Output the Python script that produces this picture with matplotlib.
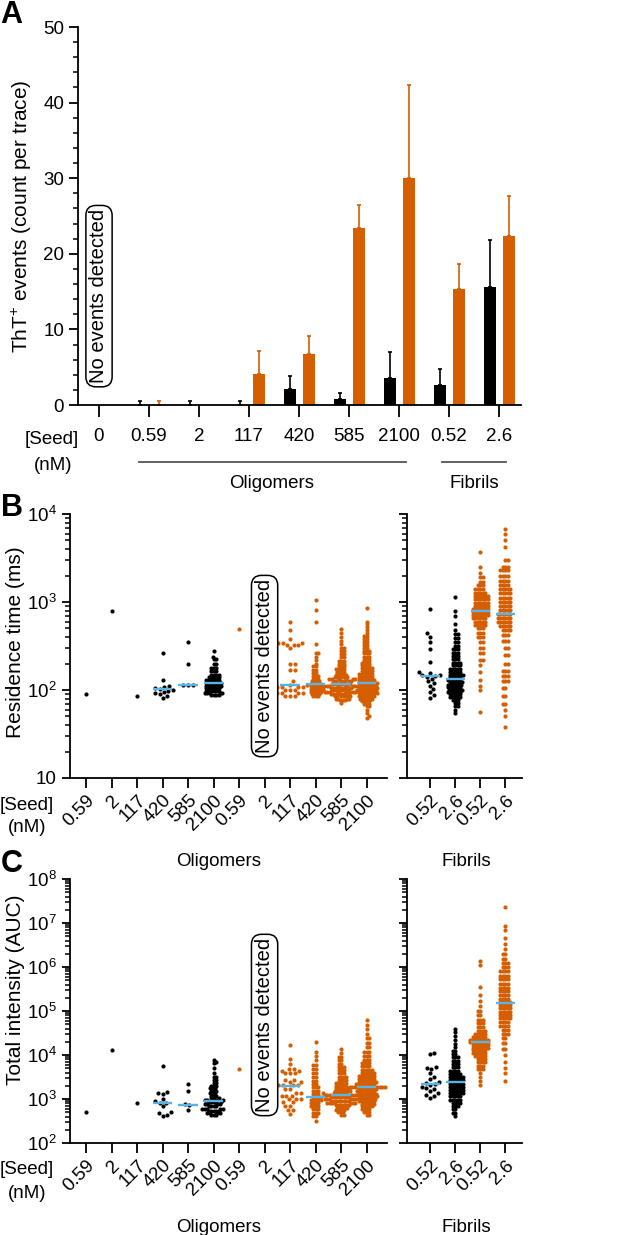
import numpy as np
import matplotlib
matplotlib.use('Agg')
import matplotlib.pyplot as plt
import matplotlib.transforms as mtransforms
from matplotlib.ticker import FixedLocator, MultipleLocator, LogLocator, NullFormatter, FuncFormatter

plt.rcParams['font.family'] = ['Liberation Sans', 'DejaVu Sans']
plt.rcParams['mathtext.fontset'] = 'custom'
plt.rcParams['mathtext.rm'] = 'Liberation Sans'
plt.rcParams['mathtext.it'] = 'Liberation Sans:italic'
plt.rcParams['mathtext.bf'] = 'Liberation Sans:bold'

ORANGE = '#D55E00'
BLUE = '#56B4E9'

# ---------------- Panel A data ----------------
seed_A = ['0', '0.59', '2', '117', '420', '585', '2100', '0.52', '2.6']
events_blk = [np.nan, 0, 0, 0, 2.1, 0.8, 3.6, 2.6, 15.6]
events_blk_err = [np.nan, 0.5, 0.5, 0.5, 1.8, 0.8, 3.4, 2.1, 6.2]
events_org = [np.nan, 0, np.nan, 4.1, 6.8, 23.4, 30.0, 15.4, 22.4]
events_org_err = [np.nan, 0.5, np.nan, 3.1, 2.3, 3.1, 12.3, 3.2, 5.2]

# ---------------- Panel B data: residence time (ms) ----------------
seed_olig = ['0.59', '2', '117', '420', '585', '2100']
seed_fib = ['0.52', '2.6']

rt_olig_blk_059 = [90]
rt_olig_blk_2 = [790]
rt_olig_blk_117 = [86]
rt_olig_blk_420 = [265, 130, 112, 108, 105, 103, 100, 98, 96, 92, 90, 86, 82]
rt_olig_blk_585 = [355, 197, 115, 115, 115]
rt_olig_blk_2100_lv = [275, 240, 225, 200, 180, 165, 150, 140, 130, 120, 112, 105, 98, 92, 87]
rt_olig_blk_2100_n = [1, 1, 2, 2, 3, 3, 4, 5, 6, 7, 7, 6, 6, 5, 4]

rt_olig_org_059 = [490]
rt_olig_org_2 = []
rt_olig_org_117_lv = [600, 480, 375, 345, 325, 300, 195, 170, 125, 115, 108, 100, 92, 86]
rt_olig_org_117_n = [1, 1, 1, 3, 3, 1, 2, 2, 1, 4, 4, 4, 4, 3]
rt_olig_org_420_lv = [1050, 810, 590, 330, 265, 240, 220, 200, 185, 170, 155, 145, 135, 125, 118, 110, 103, 96, 90, 85]
rt_olig_org_420_n = [1, 1, 1, 1, 2, 1, 1, 1, 2, 2, 2, 3, 3, 4, 5, 6, 6, 5, 4, 3]
rt_olig_org_585_lv = [490, 440, 400, 360, 330, 300, 275, 255, 235, 215, 200, 185, 172, 160, 150, 140, 132,
                      125, 118, 112, 106, 100, 95, 90, 85, 80, 76, 72]
rt_olig_org_585_n = [1, 1, 1, 1, 1, 2, 2, 2, 2, 3, 3, 3, 4, 4, 5, 5, 6, 7, 7, 8, 8, 8, 8, 7, 6, 4, 3, 1]
rt_olig_org_2100_lv = [850, 600, 560, 520, 480, 445, 410, 380, 350, 325, 300, 280, 260, 240, 222, 205, 190,
                       176, 163, 151, 140, 130, 120, 112, 105, 98, 92, 86, 80, 75, 70, 65, 60, 55, 50, 48]
rt_olig_org_2100_n = [1, 1, 1, 1, 1, 1, 2, 2, 2, 2, 2, 3, 3, 3, 3, 4, 4, 5, 5, 6, 6, 7, 8, 8, 8, 8, 8,
                      7, 6, 4, 3, 2, 1, 1, 1, 1]

rt_fib_blk_052 = [830, 445, 405, 355, 290, 208, 160, 155, 150, 148, 145, 140, 135, 125, 120, 112, 103, 95, 88, 82]
rt_fib_blk_26_lv = [1150, 780, 700, 560, 480, 430, 390, 350, 320, 290, 265, 245, 225, 205, 190, 175, 162,
                    150, 140, 130, 122, 115, 108, 101, 95, 89, 83, 77, 71, 65, 60, 55]
rt_fib_blk_26_n = [1, 1, 1, 1, 1, 2, 2, 2, 2, 3, 3, 3, 3, 4, 4, 5, 5, 6, 5, 6, 6, 6, 6, 6, 6, 5, 5, 3, 2, 2, 1, 1]
rt_fib_org_052_lv = [3700, 2500, 2150, 1900, 1700, 1550, 1400, 1280, 1170, 1070, 980, 900, 830, 770, 710,
                     650, 600, 550, 500, 450, 400, 350, 300, 260, 220, 190, 160, 130, 110, 100, 56]
rt_fib_org_052_n = [1, 1, 1, 2, 2, 3, 4, 5, 6, 6, 6, 6, 7, 7, 7, 6, 5, 5, 3, 3, 3, 2, 2, 2, 2, 1, 1, 1, 1, 1, 1]
rt_fib_org_26_lv = [6800, 6000, 5000, 4200, 3000, 2500, 2300, 2000, 1750, 1550, 1400, 1250, 1120, 1000, 900,
                    810, 730, 660, 600, 540, 480, 420, 360, 300, 250, 200, 165, 145, 125, 105, 85, 70, 60, 50, 38]
rt_fib_org_26_n = [1, 1, 1, 1, 2, 3, 4, 4, 4, 4, 5, 5, 5, 5, 5, 5, 6, 6, 6, 5, 4, 3, 3, 2, 2, 2, 3, 3, 3,
                   2, 2, 2, 1, 1, 1]

rt_olig_blk_med = [np.nan, np.nan, np.nan, 102, 115, 120]
rt_olig_org_med = [np.nan, np.nan, 113, 116, 118, 120]
rt_fib_med = [143, 135, 780, 730]

# ---------------- Panel C data: total intensity (AUC) ----------------
auc_olig_blk_059 = [515]
auc_olig_blk_2 = [13000]
auc_olig_blk_117 = [820]
auc_olig_blk_420 = [5700, 1470, 1350, 1300, 1000, 880, 820, 800, 680, 500, 470, 440, 420]
auc_olig_blk_585 = [2200, 1550, 750, 720, 570]
auc_olig_blk_2100_lv = [7800, 7000, 6500, 5000, 3800, 3200, 2700, 2300, 2000, 1750, 1550, 1350, 1200, 1050,
                        950, 850, 760, 680, 600, 540, 480, 430]
auc_olig_blk_2100_n = [1, 1, 1, 1, 1, 2, 2, 2, 3, 3, 3, 3, 3, 3, 4, 5, 4, 4, 5, 5, 4, 3]

auc_olig_org_059 = [4800]
auc_olig_org_2 = []
auc_olig_org_117_lv = [17000, 8100, 6200, 4800, 4300, 3800, 2700, 2400, 2050, 1700, 1400, 1200, 1000, 850, 700, 550, 450]
auc_olig_org_117_n = [1, 1, 1, 2, 2, 3, 2, 2, 4, 2, 2, 3, 3, 2, 2, 2, 1]
auc_olig_org_420_lv = [20000, 12000, 9500, 7500, 6000, 4800, 3800, 3100, 2600, 2200, 1850, 1550, 1300, 1100,
                       950, 800, 680, 580, 490, 410, 320]
auc_olig_org_420_n = [1, 1, 1, 1, 2, 2, 2, 2, 2, 2, 3, 3, 3, 4, 5, 4, 4, 3, 3, 2, 1]
auc_olig_org_585_lv = [13500, 11000, 9000, 7500, 6300, 5300, 4500, 3800, 3200, 2700, 2300, 2000, 1750, 1550,
                       1380, 1250, 1120, 1000, 900, 800, 720, 640, 570, 500, 440]
auc_olig_org_585_n = [1, 1, 2, 2, 2, 3, 3, 3, 4, 4, 5, 5, 6, 7, 7, 7, 8, 8, 8, 7, 6, 5, 4, 3, 2]
auc_olig_org_2100_lv = [63000, 48000, 38000, 30000, 24000, 19000, 15000, 12000, 9500, 7800, 6500, 5500, 4600,
                        3900, 3300, 2850, 2450, 2150, 1900, 1700, 1500, 1320, 1160, 1020, 900, 780, 680, 590, 510, 440]
auc_olig_org_2100_n = [1, 1, 1, 1, 2, 2, 2, 3, 3, 3, 4, 4, 5, 6, 7, 7, 8, 8, 8, 8, 8, 8, 8, 7, 7, 6, 5, 4, 3, 2]

auc_fib_blk_052 = [11000, 10300, 5300, 5100, 4900, 3900, 3100, 2900, 2400, 2300, 2200, 2100, 1900, 1800,
                   1700, 1550, 1350, 1250, 1150, 1080]
auc_fib_blk_26_lv = [40000, 33000, 27000, 22000, 18000, 15000, 12500, 10500, 8800, 7400, 6200, 5200, 4400,
                     3700, 3100, 2650, 2250, 1900, 1600, 1350, 1150, 970, 820, 690, 580, 490, 420]
auc_fib_blk_26_n = [1, 1, 1, 1, 1, 1, 2, 2, 3, 3, 3, 3, 4, 5, 6, 6, 6, 6, 6, 6, 5, 5, 4, 3, 2, 2, 1]
auc_fib_org_052_lv = [1400000, 1100000, 350000, 230000, 170000, 130000, 100000, 80000, 64000, 52000, 43000,
                      36000, 30000, 26000, 22500, 19500, 17000, 14800, 12800, 11000, 9500, 8000, 6800, 5700,
                      4700, 3900, 3200, 2600, 2100]
auc_fib_org_052_n = [1, 1, 1, 1, 1, 1, 2, 2, 3, 3, 3, 4, 5, 6, 8, 8, 7, 7, 6, 6, 5, 4, 4, 3, 3, 1, 1, 1, 1]
auc_fib_org_26_lv = [23000000, 8700000, 7000000, 4500000, 3300000, 2600000, 2000000, 1550000, 1250000,
                     1000000, 800000, 640000, 520000, 420000, 340000, 280000, 230000, 190000, 160000, 135000,
                     115000, 97000, 82000, 68000, 56000, 46000, 37000, 30000, 24000, 19000, 14000, 10000,
                     7000, 5000, 3800, 2600]
auc_fib_org_26_n = [1, 1, 1, 1, 1, 1, 2, 2, 3, 3, 4, 4, 4, 4, 4, 4, 4, 4, 5, 5, 5, 5, 5, 5, 4, 4, 3, 3,
                    2, 2, 2, 1, 1, 1, 1, 1]

auc_olig_blk_med = [np.nan, np.nan, np.nan, 810, 730, 910]
auc_olig_org_med = [np.nan, np.nan, 2000, 1090, 1250, 1840]
auc_fib_med = [2200, 2400, 20000, 150000]

# ---------------- helpers ----------------
W, H = 625, 1235
fig = plt.figure(figsize=(W / 100, H / 100), dpi=100)


def rect(l, r, t, b):
    return [l / W, 1 - b / H, (r - l) / W, (b - t) / H]


def ftext(x, y, s, **kw):
    fig.text(x / W, 1 - y / H, s, **kw)


def expand(levels, counts=None):
    lv = np.asarray(levels, float)
    if counts is None:
        return lv
    return np.repeat(lv, counts)


def swarm(yp, d):
    n = len(yp)
    xs = np.zeros(n)
    order = np.argsort(yp)
    px = []
    py = []
    for idx in order:
        y = yp[idx]
        pxa = np.array(px)
        pya = np.array(py)
        if len(pxa):
            near = np.abs(pya - y) < d
            nx, ny = pxa[near], pya[near]
        else:
            nx, ny = np.array([]), np.array([])
        cands = [0.0]
        for a, b in zip(nx, ny):
            dx = np.sqrt(max(d * d - (y - b) ** 2, 0))
            cands += [a - dx, a + dx]
        cands = sorted(set(np.round(cands, 5)), key=lambda c: (abs(c), -c if len(px) % 2 else c))
        chosen = 0.0
        for c in cands:
            if len(nx) == 0 or np.all((c - nx) ** 2 + (y - ny) ** 2 >= d * d - 1e-4):
                chosen = c
                break
        xs[idx] = chosen
        px.append(chosen)
        py.append(y)
    return xs


def draw_group(ax, pos, vals, color, ppd, ypx_ax):
    vals = np.asarray(vals, float)
    if len(vals) == 0:
        return
    d = 4.6 if len(vals) < 40 else 2.5
    yp = np.log10(vals) * ppd
    xo = swarm(yp, d)
    xl = ax.get_xlim()
    ppu = ax.get_position().width * W / (xl[1] - xl[0])
    ax.scatter(pos + xo / ppu, vals, s=9, color=color, linewidths=0, zorder=3, clip_on=False)


def draw_medians(ax, positions, meds):
    for p, m in zip(positions, meds):
        if np.isfinite(m):
            ax.plot([p - 0.38, p + 0.38], [m, m], color=BLUE, lw=1.7, zorder=4, solid_capstyle='butt')


def style_axis(ax, xlen):
    for s in ['top', 'right']:
        ax.spines[s].set_visible(False)
    for s in ['left', 'bottom']:
        ax.spines[s].set_linewidth(1.3)
    ax.tick_params(axis='both', which='major', width=1.3, labelsize=13.5, color='black')
    ax.tick_params(axis='y', which='major', length=6)
    ax.tick_params(axis='y', which='minor', length=3.5, width=1.1)
    ax.tick_params(axis='x', which='major', length=xlen)


def logfmt(v, p):
    e = int(round(np.log10(v)))
    return '10' if e == 1 else r'$\mathregular{10^{%d}}$' % e


def no_events(ax, x, yfrac):
    tr = mtransforms.blended_transform_factory(ax.transData, ax.transAxes)
    ax.text(x, yfrac, 'No events detected', rotation=90, ha='center', va='center', fontsize=14.5,
            transform=tr, zorder=5,
            bbox=dict(boxstyle='round,pad=0.18,rounding_size=0.5', fc='white', ec='black', lw=1.1))


# ---------------- Panel A ----------------
axA = fig.add_axes(rect(78, 521, 27, 405))
xA = np.arange(len(seed_A))
eb = np.array(events_blk, float)
eo = np.array(events_org, float)
ebe = np.array(events_blk_err, float)
eoe = np.array(events_org_err, float)
axA.bar(xA - 0.19, np.nan_to_num(eb), width=0.24, color='black', zorder=2)
axA.bar(xA + 0.19, np.nan_to_num(eo), width=0.24, color=ORANGE, zorder=2)
mb = np.isfinite(eb)
mo = np.isfinite(eo)
axA.errorbar(xA[mb] - 0.19, eb[mb], yerr=[np.zeros(mb.sum()), ebe[mb]], fmt='none', ecolor='black',
             elinewidth=1.2, capsize=1.6, capthick=1.2, zorder=1)
axA.errorbar(xA[mo] + 0.19, eo[mo], yerr=[np.zeros(mo.sum()), eoe[mo]], fmt='none', ecolor=ORANGE,
             elinewidth=1.2, capsize=1.6, capthick=1.2, zorder=1)
axA.set_xlim(-0.42, 8.44)
axA.set_ylim(0, 50)
axA.yaxis.set_major_locator(MultipleLocator(10))
axA.yaxis.set_minor_locator(MultipleLocator(2))
axA.set_xticks(xA)
axA.set_xticklabels(seed_A)
style_axis(axA, 8.6)
axA.tick_params(axis='x', pad=8)
axA.tick_params(axis='y', which='major', length=6.5)
no_events(axA, 0, 0.288)
trA = mtransforms.blended_transform_factory(axA.transData, axA.transAxes)
axA.plot([0.8, 6.14], [-0.151, -0.151], transform=trA, clip_on=False, color='#555555', lw=1.3)
axA.plot([6.86, 8.14], [-0.151, -0.151], transform=trA, clip_on=False, color='#555555', lw=1.3)
ftext(52, 440, '[Seed]', ha='center', va='center', fontsize=13.5)
ftext(53, 465, '(nM)', ha='center', va='center', fontsize=13.5)
ftext(272, 483, 'Oligomers', ha='center', va='center', fontsize=13.5)
ftext(474, 483, 'Fibrils', ha='center', va='center', fontsize=13.5)
ftext(22, 216, r'ThT$^{+}$ events (count per trace)', rotation=90, ha='center', va='center', fontsize=15)


# ---------------- Panels B and C ----------------
def log_panel(top, bottom, ylim, majors, olig_blk, olig_org, fib, med_blk, med_org, med_fib, ylabel,
              ylabel_y, ne_y):
    axL = fig.add_axes(rect(70, 387, top, bottom))
    axR = fig.add_axes(rect(407, 522, top, bottom))
    ppd = (bottom - top) / (np.log10(ylim[1]) - np.log10(ylim[0]))
    for ax, xl in [(axL, (-0.63, 11.8)), (axR, (-0.92, 3.68))]:
        ax.set_yscale('log')
        ax.set_ylim(*ylim)
        ax.set_xlim(*xl)
        ax.yaxis.set_major_locator(FixedLocator(majors))
        ax.yaxis.set_minor_locator(LogLocator(base=10, subs=np.arange(2, 10), numticks=20))
        ax.yaxis.set_minor_formatter(NullFormatter())
        ax.yaxis.set_major_formatter(FuncFormatter(logfmt))
        style_axis(ax, 7)
    axR.tick_params(axis='y', which='both', labelleft=False)
    for i, vals in enumerate(olig_blk):
        draw_group(axL, i, vals, 'black', ppd, None)
    for i, vals in enumerate(olig_org):
        draw_group(axL, 6 + i, vals, ORANGE, ppd, None)
    for i, (vals, col) in enumerate(fib):
        draw_group(axR, i, vals, col, ppd, None)
    draw_medians(axL, range(6), med_blk)
    draw_medians(axL, range(6, 12), med_org)
    draw_medians(axR, range(4), med_fib)
    axL.set_xticks(range(12))
    axL.set_xticklabels(seed_olig + seed_olig, rotation=45, ha='right', va='top', rotation_mode='anchor')
    axR.set_xticks(range(4))
    axR.set_xticklabels(seed_fib + seed_fib, rotation=45, ha='right', va='top', rotation_mode='anchor')
    for ax in (axL, axR):
        ax.tick_params(axis='x', pad=3)
    no_events(axL, 7, ne_y)
    ftext(27, bottom + 27, '[Seed]', ha='center', va='center', fontsize=13.5)
    ftext(27, bottom + 50, '(nM)', ha='center', va='center', fontsize=13.5)
    ftext(219, bottom + 84, 'Oligomers', ha='center', va='center', fontsize=13.5)
    ftext(466, bottom + 84, 'Fibrils', ha='center', va='center', fontsize=13.5)
    ftext(16, ylabel_y, ylabel, rotation=90, ha='center', va='center', fontsize=15)
    return axL, axR


rt_olig_blk = [expand(rt_olig_blk_059), expand(rt_olig_blk_2), expand(rt_olig_blk_117),
               expand(rt_olig_blk_420), expand(rt_olig_blk_585),
               expand(rt_olig_blk_2100_lv, rt_olig_blk_2100_n)]
rt_olig_org = [expand(rt_olig_org_059), expand(rt_olig_org_2),
               expand(rt_olig_org_117_lv, rt_olig_org_117_n), expand(rt_olig_org_420_lv, rt_olig_org_420_n),
               expand(rt_olig_org_585_lv, rt_olig_org_585_n), expand(rt_olig_org_2100_lv, rt_olig_org_2100_n)]
rt_fib = [(expand(rt_fib_blk_052), 'black'), (expand(rt_fib_blk_26_lv, rt_fib_blk_26_n), 'black'),
          (expand(rt_fib_org_052_lv, rt_fib_org_052_n), ORANGE), (expand(rt_fib_org_26_lv, rt_fib_org_26_n), ORANGE)]

log_panel(514, 778, (10, 1e4), [10, 100, 1000, 10000], rt_olig_blk, rt_olig_org, rt_fib,
          rt_olig_blk_med, rt_olig_org_med, rt_fib_med, 'Residence time (ms)', 642, 0.424)

auc_olig_blk = [expand(auc_olig_blk_059), expand(auc_olig_blk_2), expand(auc_olig_blk_117),
                expand(auc_olig_blk_420), expand(auc_olig_blk_585),
                expand(auc_olig_blk_2100_lv, auc_olig_blk_2100_n)]
auc_olig_org = [expand(auc_olig_org_059), expand(auc_olig_org_2),
                expand(auc_olig_org_117_lv, auc_olig_org_117_n), expand(auc_olig_org_420_lv, auc_olig_org_420_n),
                expand(auc_olig_org_585_lv, auc_olig_org_585_n), expand(auc_olig_org_2100_lv, auc_olig_org_2100_n)]
auc_fib = [(expand(auc_fib_blk_052), 'black'), (expand(auc_fib_blk_26_lv, auc_fib_blk_26_n), 'black'),
           (expand(auc_fib_org_052_lv, auc_fib_org_052_n), ORANGE),
           (expand(auc_fib_org_26_lv, auc_fib_org_26_n), ORANGE)]

log_panel(879, 1143, (1e2, 1e8), [1e2, 1e3, 1e4, 1e5, 1e6, 1e7, 1e8], auc_olig_blk, auc_olig_org, auc_fib,
          auc_olig_blk_med, auc_olig_org_med, auc_fib_med, 'Total intensity (AUC)', 990, 0.447)

# panel letters
ftext(11, 15, 'A', ha='center', va='center', fontsize=22, fontweight='bold')
ftext(12, 508, 'B', ha='center', va='center', fontsize=22, fontweight='bold')
ftext(12, 864, 'C', ha='center', va='center', fontsize=22, fontweight='bold')

fig.savefig('out.png', dpi=100)
